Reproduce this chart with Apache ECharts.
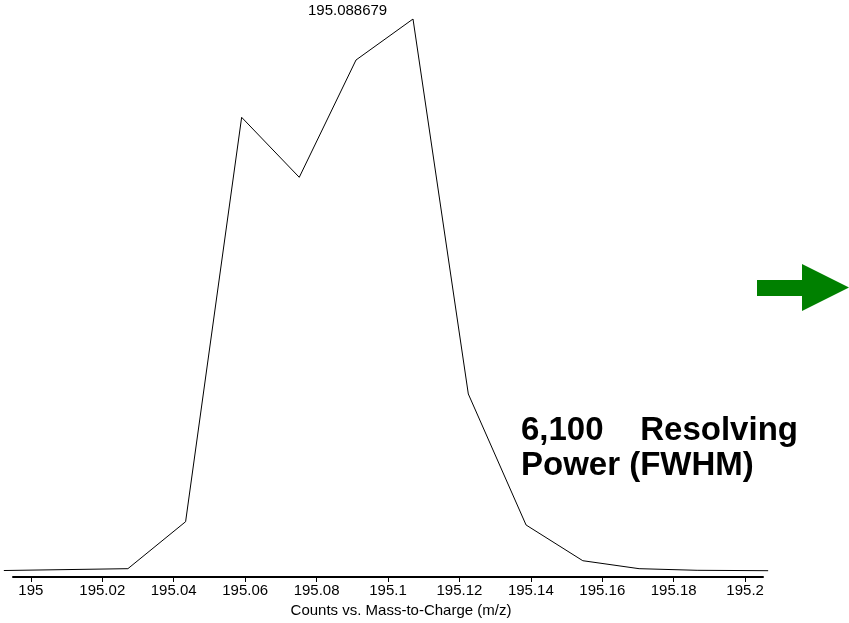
<!DOCTYPE html>
<html>
<head>
<meta charset="utf-8">
<script src="https://cdn.jsdelivr.net/npm/echarts@6/dist/echarts.min.js"></script>
<style>
html,body{margin:0;padding:0;background:#fff;}
#chart{width:849px;height:623px;}
</style>
</head>
<body>
<div id="chart"></div>
<script>
// Mass-to-charge values (m/z) of the profile points
const mzValues = [194.99244, 195.02717, 195.04333, 195.05902, 195.07515, 195.09104, 195.10700,
                  195.12249, 195.13866, 195.15454, 195.17031, 195.18655, 195.20644];
// Relative counts (peak = 100)
const countValues = [1.16, 1.49, 9.91, 82.38, 71.63, 92.65, 100, 32.8, 9.32, 2.92, 1.49, 1.20, 1.13];
// Tick values on the m/z axis
const tickValues = [195, 195.02, 195.04, 195.06, 195.08, 195.1, 195.12, 195.14, 195.16, 195.18, 195.2];
// Peak centroid annotation
const peakLabel = 195.088679;
const peakCount = 100;
const axisTitle = 'Counts vs. Mass-to-Charge (m/z)';
const noteText = '6,100    Resolving\nPower (FWHM)';

// visible axis range
const axisMin = 194.995, axisMax = 195.205;

const FONT = '"Liberation Sans", Arial, Helvetica, sans-serif';
const chart = echarts.init(document.getElementById('chart'), null, {renderer: 'canvas'});

// axis grid geometry; the trace grid extends the same scale out to the data ends
const axLeft = 13, axRight = 86, W = 849;
const pxPerUnit = (W - axLeft - axRight) / (axisMax - axisMin);
const dataMin = Math.min.apply(null, mzValues), dataMax = Math.max.apply(null, mzValues);
const trLeft = axLeft - (axisMin - dataMin) * pxPerUnit;
const trRight = axRight - (dataMax - axisMax) * pxPerUnit;

chart.setOption({
  animation: false,
  backgroundColor: '#ffffff',
  grid: [
    {left: axLeft, right: axRight, top: 19, bottom: 46, containLabel: false},
    {left: trLeft, right: trRight, top: 19, bottom: 46, containLabel: false}
  ],
  xAxis: [{
    gridIndex: 0,
    type: 'value',
    min: axisMin,
    max: axisMax,
    name: axisTitle,
    nameLocation: 'middle',
    nameGap: 26,
    nameTextStyle: {color: '#000', fontSize: 15, fontFamily: FONT, padding: [0, 0, 0, 26]},
    axisLine: {show: true, onZero: false, lineStyle: {color: '#000', width: 2}},
    axisTick: {show: true, length: 5, lineStyle: {color: '#000', width: 1}, customValues: tickValues},
    axisLabel: {
      color: '#000', fontSize: 15, fontFamily: FONT, margin: 6,
      customValues: tickValues,
      formatter: function (v) { return String(v); }
    },
    splitLine: {show: false}
  }, {
    gridIndex: 1,
    type: 'value',
    min: dataMin,
    max: dataMax,
    show: false
  }],
  yAxis: [
    {gridIndex: 0, type: 'value', min: 0, max: 100, show: false},
    {gridIndex: 1, type: 'value', min: 0, max: 100, show: false}
  ],
  series: [{
    type: 'line',
    xAxisIndex: 1,
    yAxisIndex: 1,
    data: mzValues.map((m, i) => [m, countValues[i]]),
    showSymbol: false,
    symbol: 'none',
    lineStyle: {color: '#000', width: 1},
    markPoint: {
      symbol: 'circle',
      symbolSize: 0,
      silent: true,
      data: [{coord: [peakLabel, peakCount]}],
      label: {
        show: true,
        position: 'top',
        distance: 1,
        formatter: String(peakLabel),
        color: '#000',
        fontSize: 15,
        fontFamily: FONT
      }
    }
  }],
  graphic: [
    {
      type: 'polygon',
      silent: true,
      shape: {points: [[757, 280], [802, 280], [802, 264], [849, 287.5], [802, 311], [802, 296], [757, 296]]},
      style: {fill: '#008000'}
    },
    {
      type: 'text',
      silent: true,
      left: 521,
      top: 413,
      style: {
        text: noteText,
        fill: '#000',
        font: 'bold 33px ' + FONT,
        lineHeight: 35
      }
    }
  ]
});
</script>
</body>
</html>
